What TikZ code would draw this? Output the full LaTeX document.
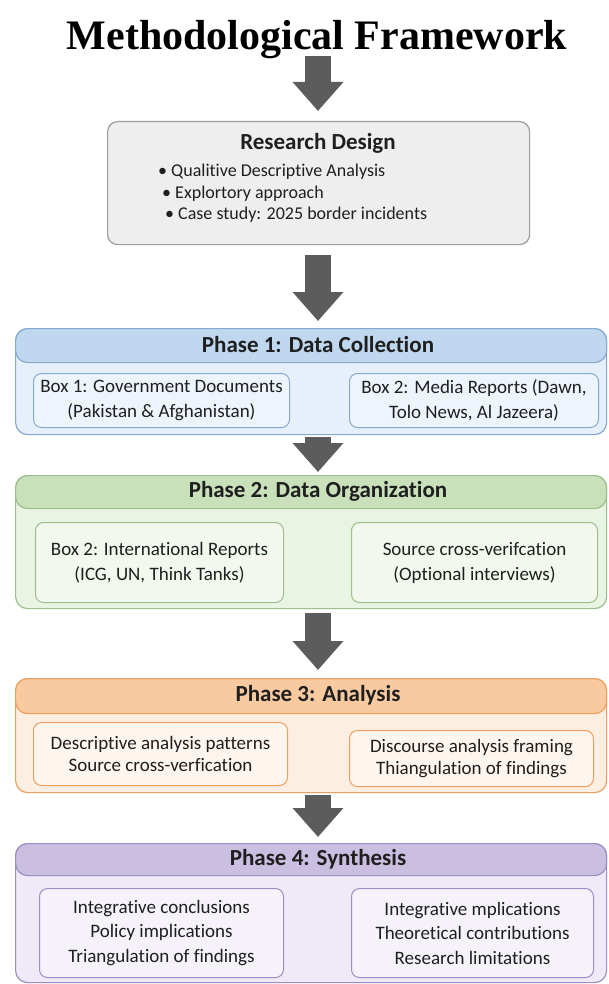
\documentclass[tikz,border=0pt]{standalone}
\usepackage{fontspec}
\setmainfont{Carlito}[Ligatures=NoCommon]
\newfontfamily\titlefont{Liberation Serif}
\usetikzlibrary{arrows.meta}
\definecolor{txt}{HTML}{1F1F1F}
\definecolor{arrowc}{HTML}{5C5C5C}
\definecolor{rdfill}{HTML}{EEEEEE}
\definecolor{rddraw}{HTML}{9C9C9C}
\definecolor{bhead}{HTML}{BFD8EF}
\definecolor{bbody}{HTML}{E6F0FA}
\definecolor{bdraw}{HTML}{86AACF}
\definecolor{ghead}{HTML}{C9E1BA}
\definecolor{gbody}{HTML}{EAF4E3}
\definecolor{gdraw}{HTML}{9DBF8C}
\definecolor{ohead}{HTML}{F9C9A0}
\definecolor{obody}{HTML}{FDEEE2}
\definecolor{odraw}{HTML}{EE9F5E}
\definecolor{phead}{HTML}{CABFE1}
\definecolor{pbody}{HTML}{EEEAF7}
\definecolor{pdraw}{HTML}{9C8FC4}
\tikzset{
  bigarrow/.style={draw=arrowc, line width=26pt, -{Triangle[width=49pt,length=29pt]}},
  outerbox/.style={rounded corners=12pt, line width=1.2pt, anchor=north west, inner sep=0pt},
  headbox/.style={rounded corners=12pt, line width=1.2pt, anchor=north west, inner sep=0pt},
  innerbox/.style={rounded corners=8pt, line width=1pt, anchor=north west, inner sep=0pt},
  htext/.style={font=\fontsize{23}{27}\selectfont\bfseries, text=txt},
  itext/.style={font=\fontsize{19}{25}\selectfont, text=txt, align=center},
}
\begin{document}
\begin{tikzpicture}[x=1pt,y=-1pt]
\fill[white] (0,0) rectangle (608,984);
\useasboundingbox (0,0) rectangle (608,984);

% title
\node[anchor=base, text=black, font=\titlefont\fontsize{42}{48}\selectfont\bfseries, inner sep=0pt] (title) at (317,50) {Methodological Framework};

% research design
\node[draw=rddraw, fill=rdfill, line width=1.2pt, rounded corners=10pt, anchor=north west, minimum width=422pt, minimum height=123pt, inner sep=0pt] (rd) at (107,121) {};
\node[htext] (rdt) at (318,143) {Research Design};
\node[anchor=north west, align=left, inner sep=0pt, text=txt, font=\fontsize{18}{21.5}\selectfont] (rdl) at (158,164)
 {\textbullet\ Qualitive Descriptive Analysis\\
  \hspace*{4pt}\textbullet\ Explortory approach\\
  \hspace*{7pt}\textbullet\ Case study: 2025 border incidents};

% Phase 1
\node[outerbox, draw=bdraw, fill=bbody, minimum width=591pt, minimum height=106pt] (p1) at (15,328) {};
\node[headbox, draw=bdraw, fill=bhead, minimum width=591pt, minimum height=34pt] (p1h) at (15,328) {};
\node[htext] (p1t) at (318,345) {Phase 1: Data Collection};
\node[innerbox, draw=bdraw, fill=bbody!70!white, minimum width=256pt, minimum height=54pt] (p1a) at (33,373) {};
\node[itext] at (p1a.center) {Box 1: Government Documents\\(Pakistan \& Afghanistan)};
\node[innerbox, draw=bdraw, fill=bbody!70!white, minimum width=249pt, minimum height=54pt] (p1b) at (349,373) {};
\node[itext] at (p1b.center) {Box 2: Media Reports (Dawn,\\Tolo News, Al Jazeera)};

% Phase 2
\node[outerbox, draw=gdraw, fill=gbody, minimum width=591pt, minimum height=133pt] (p2) at (15,475) {};
\node[headbox, draw=gdraw, fill=ghead, minimum width=591pt, minimum height=33pt] (p2h) at (15,475) {};
\node[htext] (p2t) at (318,491) {Phase 2: Data Organization};
\node[innerbox, draw=gdraw, fill=gbody!60!white, minimum width=248pt, minimum height=80pt] (p2a) at (35,522) {};
\node[itext] at (p2a.center) {Box 2: International Reports\\(ICG, UN, Think Tanks)};
\node[innerbox, draw=gdraw, fill=gbody!60!white, minimum width=246pt, minimum height=80pt] (p2b) at (351,522) {};
\node[itext] at (p2b.center) {Source cross-verifcation\\(Optional interviews)};

% Phase 3
\node[outerbox, draw=odraw, fill=obody, minimum width=591pt, minimum height=114pt] (p3) at (15,678) {};
\node[headbox, draw=odraw, fill=ohead, minimum width=591pt, minimum height=35pt] (p3h) at (15,678) {};
\node[htext] (p3t) at (318,695) {Phase 3: Analysis};
\node[innerbox, draw=odraw, fill=obody!60!white, minimum width=254pt, minimum height=63pt] (p3a) at (33,722) {};
\node[itext, font=\fontsize{19}{22.5}\selectfont] at (p3a.center) {Descriptive analysis patterns\\Source cross-verfication};
\node[innerbox, draw=odraw, fill=obody!60!white, minimum width=244pt, minimum height=56pt] (p3b) at (349,730) {};
\node[itext, font=\fontsize{19}{22.5}\selectfont] at (p3b.center) {Discourse analysis framing\\Thiangulation of findings};

% Phase 4
\node[outerbox, draw=pdraw, fill=pbody, minimum width=591pt, minimum height=139pt] (p4) at (15,843) {};
\node[headbox, draw=pdraw, fill=phead, minimum width=591pt, minimum height=32pt] (p4h) at (15,843) {};
\node[htext] (p4t) at (318,859) {Phase 4: Synthesis};
\node[innerbox, draw=pdraw, fill=pbody!60!white, minimum width=244pt, minimum height=89pt] (p4a) at (39,888) {};
\node[itext, font=\fontsize{19}{24.5}\selectfont] at (p4a.center) {Integrative conclusions\\Policy implications\\Triangulation of findings};
\node[innerbox, draw=pdraw, fill=pbody!60!white, minimum width=242pt, minimum height=89pt] (p4b) at (351,888) {};
\node[itext, font=\fontsize{19}{24.5}\selectfont] at (p4b.center) {Integrative mplications\\Theoretical contributions\\Research limitations};

% arrows
\coordinate (a1s) at (318,56);  \coordinate (a1e) at (318,111);
\coordinate (a2s) at (318,255); \coordinate (a2e) at (318,321);
\coordinate (a3s) at (318,437); \coordinate (a3e) at (318,472);
\coordinate (a4s) at (318,613); \coordinate (a4e) at (318,670);
\coordinate (a5s) at (318,795); \coordinate (a5e) at (318,837);
\draw[bigarrow] (a1s) -- (a1e);
\draw[bigarrow] (a2s) -- (a2e);
\draw[bigarrow] (a3s) -- (a3e);
\draw[bigarrow] (a4s) -- (a4e);
\draw[bigarrow] (a5s) -- (a5e);
\end{tikzpicture}
\end{document}
